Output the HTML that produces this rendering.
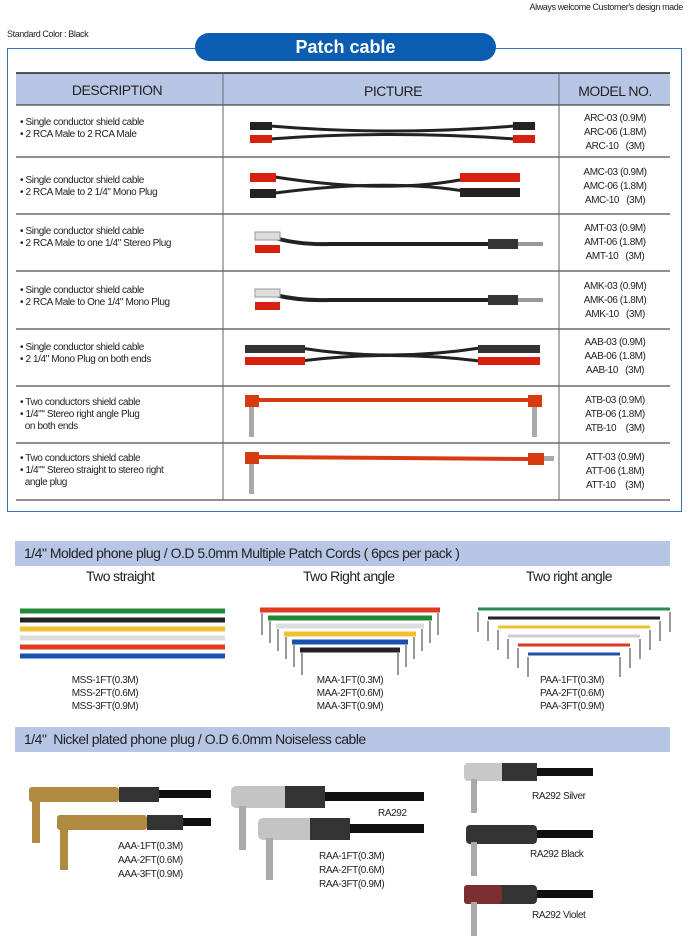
<!DOCTYPE html>
<html><head><meta charset="utf-8"><style>
body{margin:0;width:689px;height:940px;background:#fff;position:relative;font-family:"Liberation Sans",sans-serif;color:#222;overflow:hidden}
.a{position:absolute}
.s{font-size:10px;letter-spacing:-0.4px;line-height:12px}
.c{text-align:center}
.bar{position:absolute;left:15px;width:655px;height:25px;background:#b8c6e6;font-size:14px;line-height:25px;letter-spacing:-0.5px;padding-left:9px;box-sizing:border-box}
.sub{position:absolute;font-size:14px;letter-spacing:-0.6px;top:568px}
</style></head><body>
<div class="a s" style="right:6px;top:1px;font-size:9px">Always welcome Customer's design made</div>
<div class="a s" style="left:7px;top:28px;font-size:9px">Standard Color : Black</div>
<div class="a" style="left:7px;top:48px;width:675px;height:464px;border:1px solid #3a6fae;box-sizing:border-box"></div>
<div class="a c" style="left:195px;top:33px;width:301px;height:28px;border-radius:14px;background:#0b5db2;color:#fff;font-weight:bold;font-size:18px;line-height:28px">Patch cable</div>

<svg class="a" style="left:0;top:0" width="689" height="520">
<rect x="16" y="73" width="654" height="32" fill="#b8c6e6"/>
<g stroke="#222" stroke-width="1">
<line x1="16" y1="73" x2="670" y2="73" stroke-width="1.5"/>
<line x1="16" y1="105" x2="670" y2="105"/>
<line x1="16" y1="157" x2="670" y2="157"/>
<line x1="16" y1="214" x2="670" y2="214"/>
<line x1="16" y1="271" x2="670" y2="271"/>
<line x1="16" y1="329" x2="670" y2="329"/>
<line x1="16" y1="386" x2="670" y2="386"/>
<line x1="16" y1="443" x2="670" y2="443"/>
<line x1="16" y1="500" x2="670" y2="500"/>
<line x1="223" y1="73" x2="223" y2="500" stroke="#666"/>
<line x1="559" y1="73" x2="559" y2="500" stroke="#666"/>
</g>
<g font-family="Liberation Sans" font-size="14" fill="#222" text-anchor="middle" letter-spacing="-0.5">
<text x="117" y="95">DESCRIPTION</text><text x="393" y="96">PICTURE</text><text x="615" y="96">MODEL NO.</text>
</g>
<path d="M270 126 Q390 136 515 126" stroke="#222" stroke-width="3" fill="none"/>
<path d="M270 139 Q390 130 515 139" stroke="#222" stroke-width="3" fill="none"/>
<rect x="250" y="122" width="22" height="8" fill="#222"/><rect x="250" y="135" width="22" height="8" fill="#d82010"/>
<rect x="513" y="122" width="22" height="8" fill="#222"/><rect x="513" y="135" width="22" height="8" fill="#d82010"/>
<path d="M275 177 Q390 195 470 178" stroke="#222" stroke-width="3" fill="none"/>
<path d="M275 193 Q390 178 470 192" stroke="#222" stroke-width="3" fill="none"/>
<rect x="250" y="173" width="26" height="9" fill="#d82010"/><rect x="250" y="189" width="26" height="9" fill="#222"/>
<rect x="460" y="173" width="60" height="9" fill="#d82010"/><rect x="460" y="188" width="60" height="9" fill="#222"/>
<path d="M275 238 Q300 245 330 244 L490 244" stroke="#222" stroke-width="4" fill="none"/>
<rect x="255" y="232" width="25" height="8" fill="#ddd" stroke="#999"/><rect x="255" y="245" width="25" height="8" fill="#d82010"/>
<rect x="488" y="239" width="30" height="10" fill="#333"/><rect x="518" y="242" width="25" height="4" fill="#999"/>
<path d="M275 295 Q300 301 330 300 L490 300" stroke="#222" stroke-width="4" fill="none"/>
<rect x="255" y="289" width="25" height="8" fill="#ddd" stroke="#999"/><rect x="255" y="302" width="25" height="8" fill="#d82010"/>
<rect x="488" y="295" width="30" height="10" fill="#333"/><rect x="518" y="298" width="25" height="4" fill="#999"/>
<path d="M300 348 Q390 362 480 348" stroke="#222" stroke-width="3" fill="none"/>
<path d="M300 361 Q390 350 480 361" stroke="#222" stroke-width="3" fill="none"/>
<rect x="245" y="345" width="60" height="8" fill="#333"/><rect x="245" y="357" width="60" height="8" fill="#d82010"/>
<rect x="478" y="345" width="62" height="8" fill="#333"/><rect x="478" y="357" width="62" height="8" fill="#d82010"/>
<path d="M255 400 L530 400" stroke="#d83a10" stroke-width="4"/>
<rect x="245" y="395" width="14" height="12" fill="#d83a10"/><rect x="249" y="407" width="5" height="30" fill="#aaa"/>
<rect x="528" y="395" width="14" height="12" fill="#d83a10"/><rect x="532" y="407" width="5" height="30" fill="#aaa"/>
<path d="M255 457 L530 459" stroke="#d83a10" stroke-width="4"/>
<rect x="245" y="452" width="14" height="12" fill="#d83a10"/><rect x="249" y="464" width="5" height="30" fill="#aaa"/>
<rect x="528" y="453" width="16" height="12" fill="#d83a10"/><rect x="544" y="456" width="10" height="5" fill="#aaa"/>
</svg>

<div class="a s" style="left:20px;top:117px">• Single conductor shield cable<br>• 2 RCA Male to 2 RCA Male</div>
<div class="a s" style="left:20px;top:175px">• Single conductor shield cable<br>• 2 RCA Male to 2 1/4" Mono Plug</div>
<div class="a s" style="left:20px;top:226px">• Single conductor shield cable<br>• 2 RCA Male to one 1/4" Stereo Plug</div>
<div class="a s" style="left:20px;top:285px">• Single conductor shield cable<br>• 2 RCA Male to One 1/4" Mono Plug</div>
<div class="a s" style="left:20px;top:342px">• Single conductor shield cable<br>• 2 1/4" Mono Plug on both ends</div>
<div class="a s" style="left:20px;top:397px">• Two conductors shield cable<br>• 1/4"" Stereo right angle Plug<br>&nbsp;&nbsp;on both ends</div>
<div class="a s" style="left:20px;top:453px">• Two conductors shield cable<br>• 1/4"" Stereo straight to stereo right<br>&nbsp;&nbsp;angle plug</div>

<div class="a s c" style="left:565px;width:100px;top:112px;line-height:14px">ARC-03 (0.9M)<br>ARC-06 (1.8M)<br>ARC-10 &nbsp;&nbsp;(3M)</div>
<div class="a s c" style="left:565px;width:100px;top:166px;line-height:14px">AMC-03 (0.9M)<br>AMC-06 (1.8M)<br>AMC-10 &nbsp;&nbsp;(3M)</div>
<div class="a s c" style="left:565px;width:100px;top:222px;line-height:14px">AMT-03 (0.9M)<br>AMT-06 (1.8M)<br>AMT-10 &nbsp;&nbsp;(3M)</div>
<div class="a s c" style="left:565px;width:100px;top:280px;line-height:14px">AMK-03 (0.9M)<br>AMK-06 (1.8M)<br>AMK-10 &nbsp;&nbsp;(3M)</div>
<div class="a s c" style="left:565px;width:100px;top:336px;line-height:14px">AAB-03 (0.9M)<br>AAB-06 (1.8M)<br>AAB-10 &nbsp;&nbsp;(3M)</div>
<div class="a s c" style="left:565px;width:100px;top:394px;line-height:14px">ATB-03 (0.9M)<br>ATB-06 (1.8M)<br>ATB-10 &nbsp;&nbsp;&nbsp;(3M)</div>
<div class="a s c" style="left:565px;width:100px;top:451px;line-height:14px">ATT-03 (0.9M)<br>ATT-06 (1.8M)<br>ATT-10 &nbsp;&nbsp;&nbsp;(3M)</div>

<div class="bar" style="top:541px">1/4" Molded phone plug / O.D 5.0mm Multiple Patch Cords ( 6pcs per pack )</div>
<div class="sub" style="left:86px">Two straight</div>
<div class="sub" style="left:303px">Two Right angle</div>
<div class="sub" style="left:526px">Two right angle</div>

<svg class="a" style="left:0;top:595px" width="689" height="130">
<g stroke-width="5">
<line x1="20" y1="16" x2="225" y2="16" stroke="#1f8a3a"/>
<line x1="20" y1="25" x2="225" y2="25" stroke="#222"/>
<line x1="20" y1="34" x2="225" y2="34" stroke="#f0c030"/>
<line x1="20" y1="43" x2="225" y2="43" stroke="#ddd"/>
<line x1="20" y1="52" x2="225" y2="52" stroke="#e03a20"/>
<line x1="20" y1="61" x2="225" y2="61" stroke="#1a50b0"/>
<line x1="260" y1="15" x2="440" y2="15" stroke="#e03a20"/>
<line x1="268" y1="23" x2="432" y2="23" stroke="#1f8a3a"/>
<line x1="276" y1="31" x2="424" y2="31" stroke="#ddd"/>
<line x1="284" y1="39" x2="416" y2="39" stroke="#f0c030"/>
<line x1="292" y1="47" x2="408" y2="47" stroke="#1a50b0"/>
<line x1="300" y1="55" x2="400" y2="55" stroke="#222"/>
<line x1="478" y1="14" x2="670" y2="14" stroke="#2a8a50" stroke-width="3"/>
<line x1="488" y1="23" x2="660" y2="23" stroke="#222" stroke-width="3"/>
<line x1="498" y1="32" x2="650" y2="32" stroke="#f0c030" stroke-width="3"/>
<line x1="508" y1="41" x2="640" y2="41" stroke="#ccc" stroke-width="3"/>
<line x1="518" y1="50" x2="630" y2="50" stroke="#d83a20" stroke-width="3"/>
<line x1="528" y1="59" x2="620" y2="59" stroke="#2050a0" stroke-width="3"/>
</g>
<g stroke="#999" stroke-width="2">
<path d="M262 18v22M270 26v22M278 34v22M286 42v22M294 50v22M302 58v22M438 18v22M430 26v22M422 34v22M414 42v22M406 50v22M398 58v22"/>
<path d="M478 17v20M488 26v20M498 35v20M508 44v20M518 53v20M528 62v20M670 17v20M660 26v20M650 35v20M640 44v20M630 53v20M620 62v20"/>
</g>
</svg>

<div class="a s c" style="left:60px;width:90px;top:674px;line-height:13px">MSS-1FT(0.3M)<br>MSS-2FT(0.6M)<br>MSS-3FT(0.9M)</div>
<div class="a s c" style="left:305px;width:90px;top:674px;line-height:13px">MAA-1FT(0.3M)<br>MAA-2FT(0.6M)<br>MAA-3FT(0.9M)</div>
<div class="a s c" style="left:527px;width:90px;top:674px;line-height:13px">PAA-1FT(0.3M)<br>PAA-2FT(0.6M)<br>PAA-3FT(0.9M)</div>

<div class="bar" style="top:727px">1/4"&nbsp; Nickel plated phone plug / O.D 6.0mm Noiseless cable</div>

<svg class="a" style="left:0;top:0" width="689" height="940">
<rect x="150" y="790" width="61" height="8" fill="#111"/>
<rect x="175" y="818" width="36" height="8" fill="#111"/>
<rect x="29" y="787" width="90" height="15" rx="3" fill="#b08a40"/>
<rect x="119" y="787" width="40" height="15" fill="#333"/>
<rect x="32" y="800" width="8" height="43" fill="#b08a40"/>
<rect x="57" y="815" width="90" height="15" rx="3" fill="#b08a40"/>
<rect x="147" y="815" width="36" height="15" fill="#333"/>
<rect x="60" y="828" width="8" height="42" fill="#b08a40"/>
<rect x="320" y="792" width="104" height="9" fill="#111"/>
<rect x="345" y="824" width="79" height="9" fill="#111"/>
<rect x="231" y="786" width="94" height="22" rx="5" fill="#c4c4c4"/>
<rect x="285" y="786" width="40" height="22" fill="#333"/>
<rect x="239" y="806" width="7" height="44" fill="#aaa"/>
<rect x="258" y="818" width="92" height="22" rx="5" fill="#c4c4c4"/>
<rect x="310" y="818" width="40" height="22" fill="#333"/>
<rect x="266" y="838" width="7" height="42" fill="#aaa"/>
<rect x="535" y="768" width="58" height="8" fill="#111"/>
<rect x="464" y="763" width="73" height="18" rx="4" fill="#c8c8c8"/><rect x="502" y="763" width="35" height="18" fill="#333"/><rect x="471" y="779" width="6" height="34" fill="#aaa"/>
<rect x="535" y="830" width="58" height="8" fill="#111"/>
<rect x="466" y="825" width="71" height="19" rx="4" fill="#333"/><rect x="471" y="842" width="6" height="34" fill="#aaa"/>
<rect x="535" y="890" width="58" height="8" fill="#111"/>
<rect x="464" y="885" width="73" height="19" rx="4" fill="#333"/><rect x="464" y="885" width="38" height="19" rx="3" fill="#7a2e30"/><rect x="471" y="902" width="6" height="34" fill="#aaa"/>
</svg>
<div class="a s" style="left:118px;top:840px;line-height:14px">AAA-1FT(0.3M)<br>AAA-2FT(0.6M)<br>AAA-3FT(0.9M)</div>
<div class="a s" style="left:378px;top:808px">RA292</div>
<div class="a s" style="left:319px;top:850px;line-height:14px">RAA-1FT(0.3M)<br>RAA-2FT(0.6M)<br>RAA-3FT(0.9M)</div>
<div class="a s" style="left:532px;top:791px">RA292 Silver</div>
<div class="a s" style="left:530px;top:849px">RA292 Black</div>
<div class="a s" style="left:532px;top:910px">RA292 Violet</div>
</body></html>
